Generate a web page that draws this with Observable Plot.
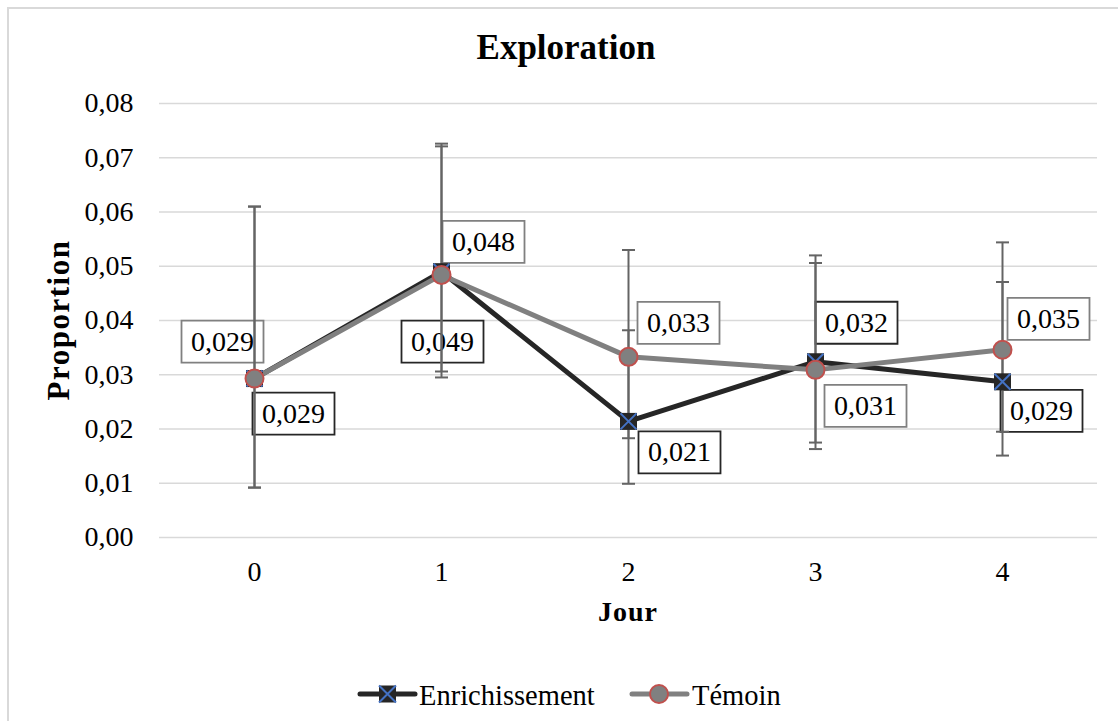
<!DOCTYPE html>
<html>
<head>
<meta charset="utf-8">
<script src="https://cdn.jsdelivr.net/npm/d3@7"></script>
<script src="https://cdn.jsdelivr.net/npm/@observablehq/plot@0.6"></script>
<style>
  html, body { margin: 0; padding: 0; background: #fff; }
  #wrap { position: relative; width: 1118px; height: 721px; overflow: hidden; font-family: "Liberation Serif", "Times New Roman", serif; }
  #frame { position: absolute; left: 7px; top: 7px; width: 1200px; height: 800px; border-left: 2px solid #d9d9d9; border-top: 2px solid #d9d9d9; }
  #chart { position: absolute; left: 0; top: 0; }
  #overlay { position: absolute; left: 0; top: 0; pointer-events: none; }
</style>
</head>
<body>
<div id="wrap">
  <div id="frame"></div>
  <div id="chart"></div>
  <svg id="overlay" width="1118" height="721" font-family="'Liberation Serif', 'Times New Roman', serif">
    <text x="566" y="59" text-anchor="middle" font-weight="bold" font-size="35">Exploration</text>
    <text x="628" y="621" text-anchor="middle" font-weight="bold" font-size="28" letter-spacing="1">Jour</text>
    <text transform="translate(69,320) rotate(-90)" text-anchor="middle" font-weight="bold" font-size="31" letter-spacing="1.5">Proportion</text>
    <g id="legend"></g>
  </svg>
</div>
<script>
// ---- Data ----
const days = [0, 1, 2, 3, 4];
const seriesNames = ["Enrichissement", "Témoin"];
const enrichValues = [0.0293, 0.0490, 0.0214, 0.0324, 0.0287];
const temoinValues = [0.0293, 0.0484, 0.0333, 0.0309, 0.0346];
const enrichLow  = [0.0092, 0.0306, 0.0183, 0.0175, 0.0195];
const enrichHigh = [0.0610, 0.0726, 0.0382, 0.0506, 0.0471];
const temoinLow  = [0.0092, 0.0295, 0.0099, 0.0163, 0.0151];
const temoinHigh = [0.0610, 0.0721, 0.0530, 0.0520, 0.0544];
const yTicks = [0, 0.01, 0.02, 0.03, 0.04, 0.05, 0.06, 0.07, 0.08];

// ---- Styles / layout ----
const FONT = "'Liberation Serif', 'Times New Roman', serif";
const colE = "#262626", colT = "#808080", colErr = "#646464";
const markerBlue = "#4472c4", markerRed = "#c0504d";
// label offsets (pixels) relative to each point
const offE = [[39, 35], [1, 70], [51, 31], [41, -39], [39, 29]];
const offT = [[-32, -37], [42, -33], [50, -34], [50, 36], [46, -31]];

const comma = s => s.replace(".", ",");
const fmtTick = d => comma(d3.format(".2f")(d));
const fmtLabel = d => comma(d3.format(".3f")(d));

const rows = (vals, lo, hi, name) => days.map((d, i) => ({day: d, value: vals[i], low: lo[i], high: hi[i], series: name}));
const dataE = rows(enrichValues, enrichLow, enrichHigh, seriesNames[0]);
const dataT = rows(temoinValues, temoinLow, temoinHigh, seriesNames[1]);

const boxSymbol = {draw(ctx) { ctx.rect(-41, -21, 82, 42); }};
const capSymbol = {draw(ctx) { ctx.moveTo(-6.5, 0); ctx.lineTo(6.5, 0); }};
const squareSymbol = {draw(ctx) { ctx.rect(-8.5, -8.5, 17, 17); }};
const xSymbol = {draw(ctx) { ctx.moveTo(-8, -8); ctx.lineTo(8, 8); ctx.moveTo(8, -8); ctx.lineTo(-8, 8); }};

const labelMarks = [];
function addLabels(data, offs, stroke) {
  data.forEach((d, i) => {
    const [dx, dy] = offs[i];
    labelMarks.push(Plot.dot([d], {x: "day", y: "value", symbol: boxSymbol, dx, dy, fill: "white", stroke, strokeWidth: 1.8}));
    labelMarks.push(Plot.text([d], {x: "day", y: "value", text: r => fmtLabel(r.value), dx, dy, fontSize: 28, fill: "black"}));
  });
}
addLabels(dataT, offT, colT);
addLabels(dataE, offE, colE);

const errData = [...dataE, ...dataT];

const chart = Plot.plot({
  width: 1118,
  height: 721,
  marginLeft: 159,
  marginRight: 21,
  marginTop: 103,
  marginBottom: 184,
  style: {fontFamily: FONT, fontSize: "28px", color: "black", background: "transparent"},
  x: {type: "point", domain: days, padding: 0.5, label: null},
  y: {domain: [0, 0.08], label: null},
  marks: [
    Plot.gridY(yTicks, {stroke: "#d9d9d9", strokeOpacity: 1, strokeWidth: 1.4}),
    Plot.axisY(yTicks, {tickSize: 0, tickPadding: 26, tickFormat: fmtTick, fontSize: 28, label: null}),
    Plot.axisX(days, {tickSize: 0, tickPadding: 24, fontSize: 28, label: null}),
    ...labelMarks,
    Plot.ruleX(errData, {x: "day", y1: "low", y2: "high", stroke: colErr, strokeWidth: 2}),
    Plot.dot(errData, {x: "day", y: "low", symbol: capSymbol, stroke: colErr, strokeWidth: 2, fill: "none"}),
    Plot.dot(errData, {x: "day", y: "high", symbol: capSymbol, stroke: colErr, strokeWidth: 2, fill: "none"}),
    Plot.line(dataE, {x: "day", y: "value", stroke: colE, strokeWidth: 5, strokeLinejoin: "round"}),
    Plot.line(dataT, {x: "day", y: "value", stroke: colT, strokeWidth: 5, strokeLinejoin: "round"}),
    Plot.dot(dataE, {x: "day", y: "value", symbol: squareSymbol, fill: colE, stroke: "none"}),
    Plot.dot(dataE, {x: "day", y: "value", symbol: xSymbol, stroke: markerBlue, strokeWidth: 2, fill: "none"}),
    Plot.dot(dataT, {x: "day", y: "value", r: 9, fill: colT, stroke: markerRed, strokeWidth: 2})
  ]
});
document.getElementById("chart").appendChild(chart);

// ---- Legend ----
const lg = d3.select("#legend");
const ly = 694;
// Enrichissement
lg.append("line").attr("x1", 360).attr("x2", 415).attr("y1", ly).attr("y2", ly).attr("stroke", colE).attr("stroke-width", 5).attr("stroke-linecap", "round");
lg.append("rect").attr("x", 379).attr("y", ly - 8.5).attr("width", 17).attr("height", 17).attr("fill", colE);
lg.append("path").attr("d", `M${379},${ly-8.5}L${396},${ly+8.5}M${396},${ly-8.5}L${379},${ly+8.5}`).attr("stroke", markerBlue).attr("stroke-width", 2);
lg.append("text").attr("x", 419).attr("y", 705).attr("font-size", 28.5).text(seriesNames[0]);
// Témoin
lg.append("line").attr("x1", 632).attr("x2", 687).attr("y1", ly).attr("y2", ly).attr("stroke", colT).attr("stroke-width", 5).attr("stroke-linecap", "round");
lg.append("circle").attr("cx", 659).attr("cy", ly).attr("r", 9).attr("fill", colT).attr("stroke", markerRed).attr("stroke-width", 2);
lg.append("text").attr("x", 692).attr("y", 705).attr("font-size", 28.5).text(seriesNames[1]);
</script>
</body>
</html>
